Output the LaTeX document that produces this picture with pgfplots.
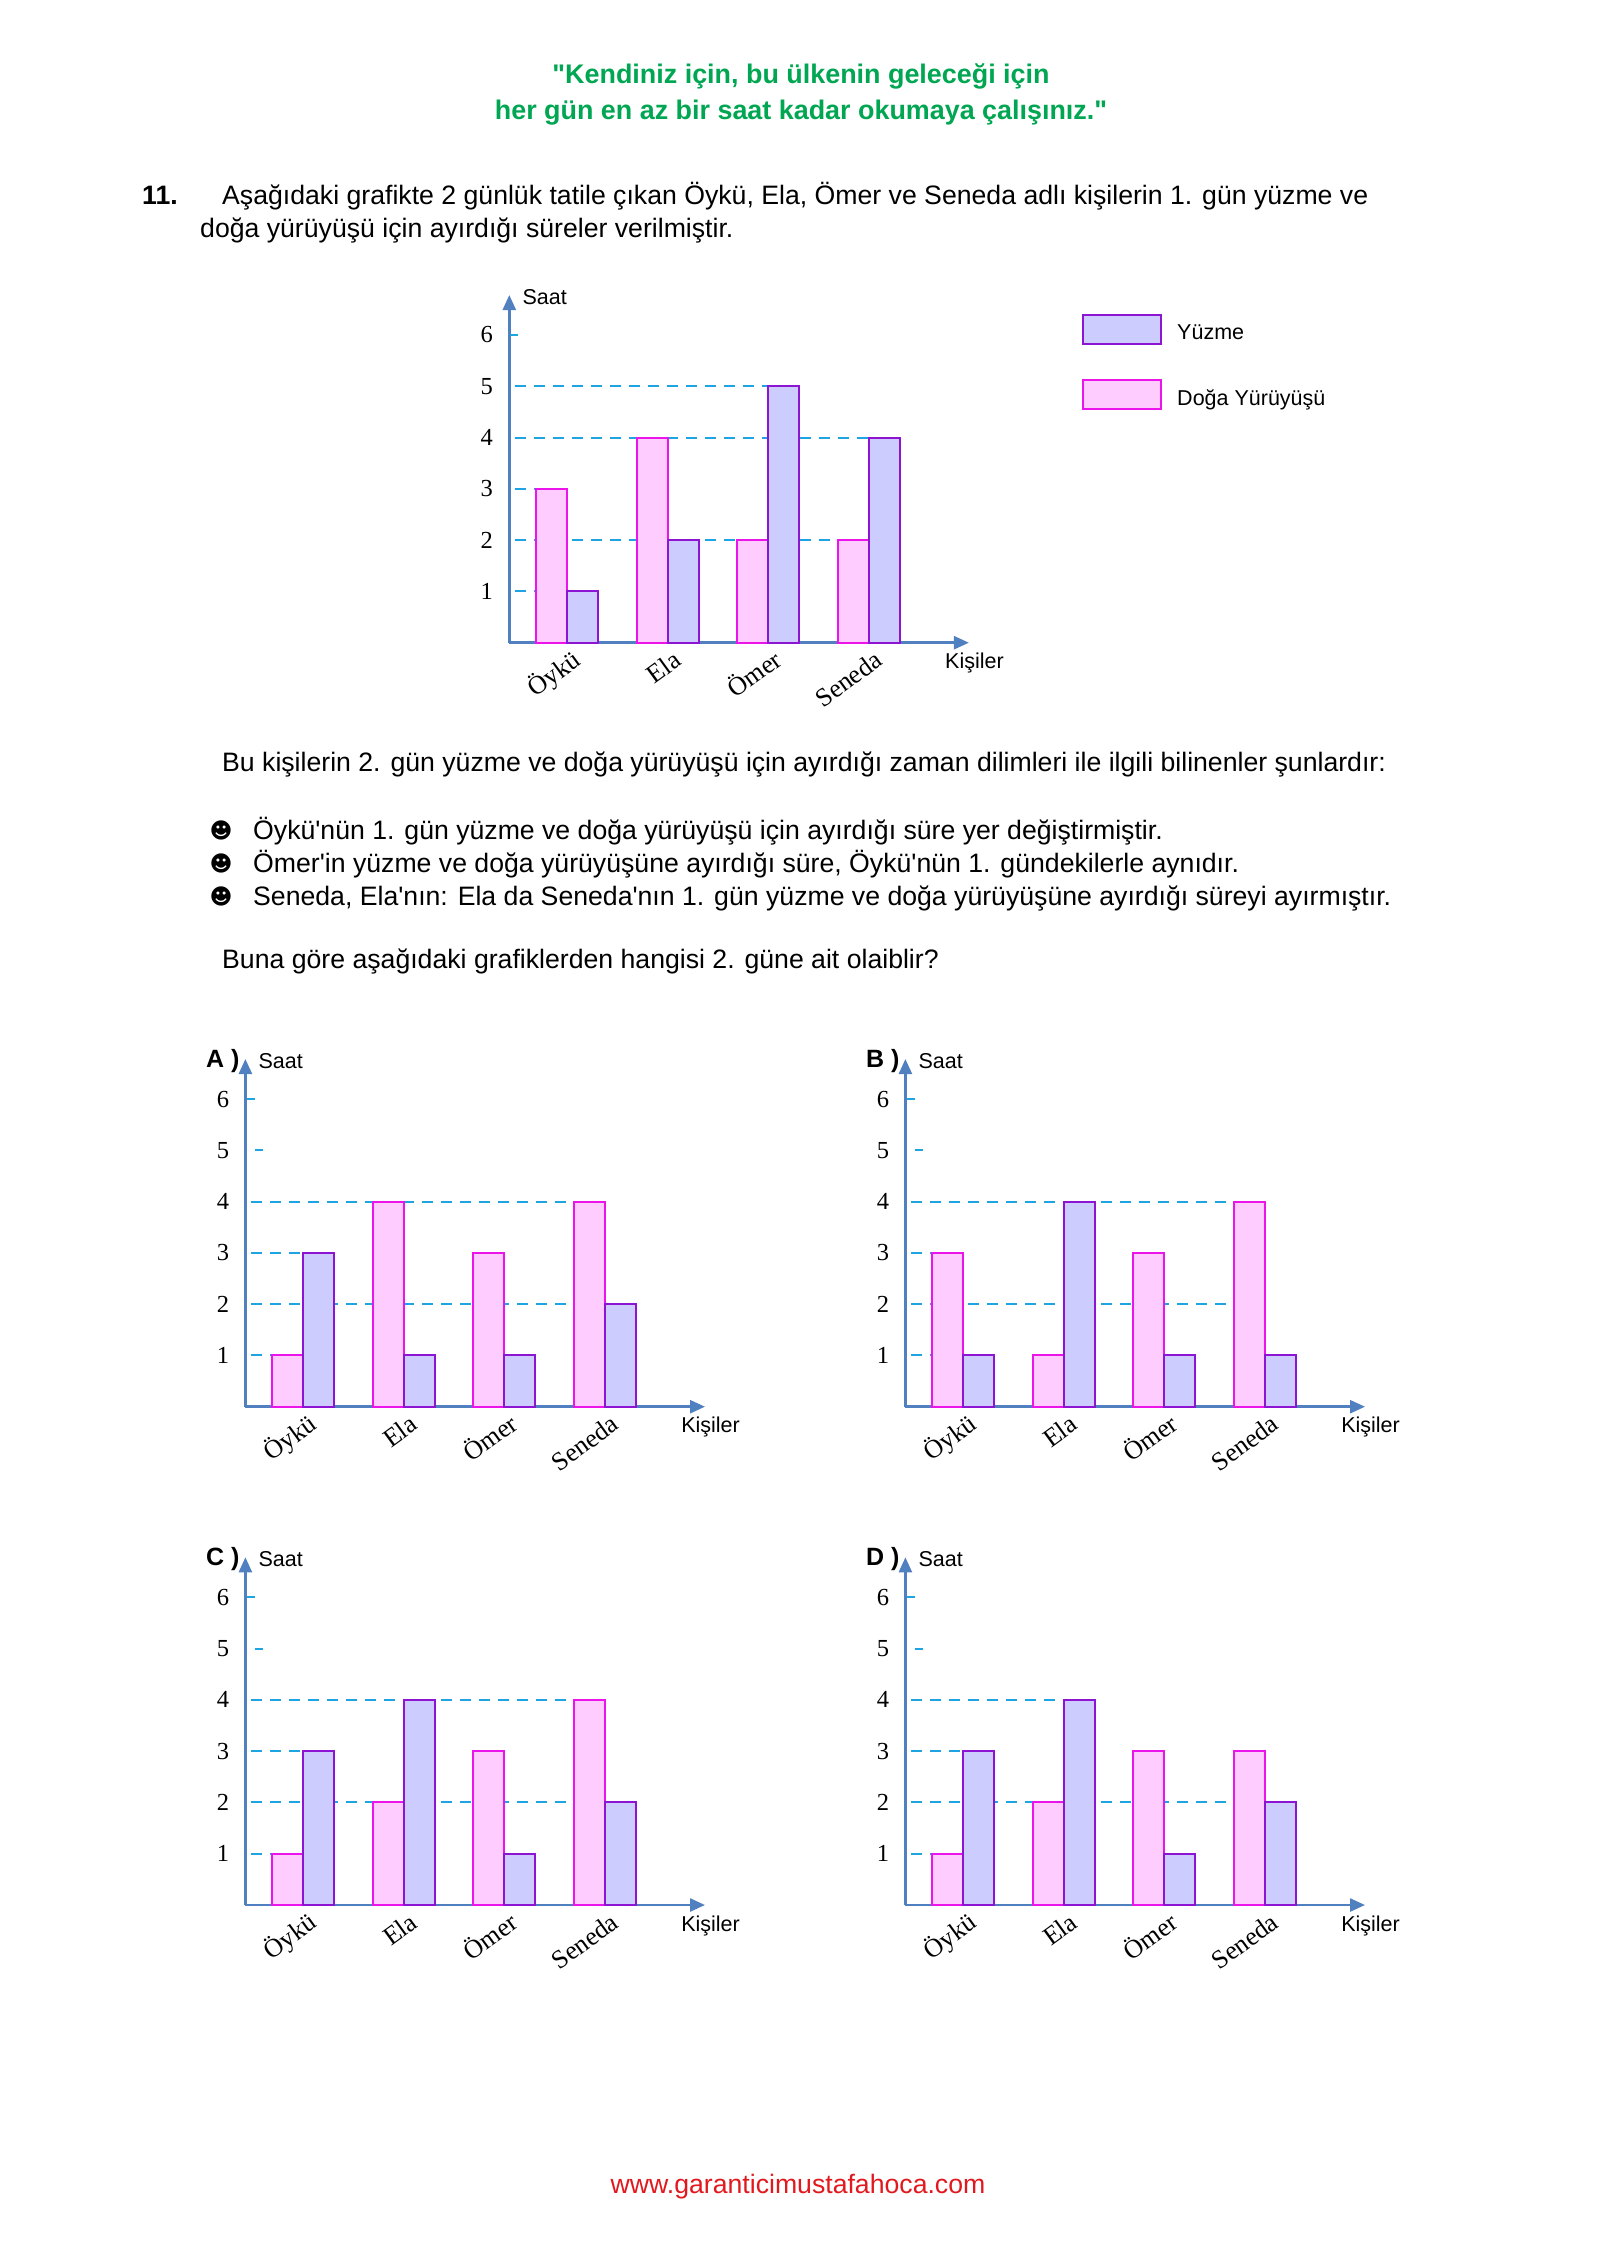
\documentclass[border=0pt]{standalone}
\usepackage{fontspec}
\setmainfont{Liberation Sans}[Ligatures=TeXOff]
\newfontfamily\tnr{Liberation Serif}
\newfontfamily\djv{DejaVu Sans}
\usepackage{pgfplots}
\pgfplotsset{compat=1.18}
\usetikzlibrary{arrows.meta}

\definecolor{axisblue}{RGB}{80,128,192}
\definecolor{dashcyan}{RGB}{30,165,225}
\definecolor{pinkfill}{RGB}{255,204,255}
\definecolor{pinkedge}{RGB}{235,20,235}
\definecolor{bluefill}{RGB}{204,204,255}
\definecolor{blueedge}{RGB}{140,20,210}
\definecolor{titlegreen}{RGB}{0,166,81}
\definecolor{footred}{RGB}{225,25,30}

\newcommand\bodyfont{\fontsize{26.65}{33}\selectfont}
\newcommand\titlefont{\fontsize{26.9}{33}\selectfont}
\newcommand\smallfont{\fontsize{21.5}{25}\selectfont}

\pgfplotsset{
  saatchart/.style={
    scale only axis, width=459.6pt, height=347.7pt,
    anchor=south west,
    xmin=-0.575, xmax=3.994, ymin=0, ymax=6.78,
    axis lines*=left,
    axis line style={draw=axisblue, line width=2.5pt, -{Triangle[length=15pt,width=13pt]}},
    xtick={0,1,2,3}, xticklabels={Öykü,Ela,Ömer,Seneda},
    ytick={1,2,3,4,5,6}, yticklabels={1,2,3,4,5,6},
    major tick length=0pt, tick style={draw=none},
    xticklabel style={font=\tnr\fontsize{26}{30}\selectfont, rotate=36, anchor=north east,
      inner sep=0pt, text height=17pt, text depth=0pt, xshift=0pt, yshift=-9pt},
    yticklabel style={font=\tnr\fontsize{24.5}{28}\selectfont, anchor=center, inner sep=0pt, xshift=-22.5pt},
    clip=false,
  },
  boxlegend/.style={legend image code/.code={\draw[##1, line width=2pt, solid] (0pt,-11.2pt) rectangle (78.3pt,17.4pt);}},
  pinkbar/.style={ybar, bar width=31pt, bar shift=-15.5pt, fill=pinkfill, draw=pinkedge, line width=2pt, boxlegend},
  bluebar/.style={ybar, bar width=31pt, bar shift=15.5pt, fill=bluefill, draw=blueedge, line width=2pt, boxlegend},
  dashln/.style={dashcyan, line width=2pt, dash pattern=on 11pt off 8pt, forget plot},
  tickln/.style={dashcyan, line width=2pt, solid, forget plot},
}

\newcommand\chartlabels[1]{%
  \node[anchor=west, inner sep=0pt, font=\smallfont, xshift=13pt, yshift=-2pt] at (rel axis cs:0,1) {Saat};
  \node[anchor=west, inner sep=0pt, font=\smallfont, yshift=-20.6pt] at (rel axis cs:0.948,0) {Kişiler};
  \node[anchor=west, inner sep=0pt, font=\bfseries\fontsize{25}{30}\selectfont, xshift=-39.4pt, yshift=-1.7pt] at (rel axis cs:0,1) {#1};
}

\begin{document}
\begin{tikzpicture}
\path[use as bounding box] (0pt,0pt) rectangle (1600pt,-2262pt);

% header
\node[anchor=base, inner sep=0pt, font=\bfseries\titlefont, text=titlegreen] at (801pt,-83pt) {"Kendiniz için, bu ülkenin geleceği için};
\node[anchor=base, inner sep=0pt, font=\bfseries\titlefont, text=titlegreen] at (801pt,-119pt) {her gün en az bir saat kadar okumaya çalışınız."};

\node[anchor=base west, inner sep=0pt, font=\bfseries\bodyfont] at (142pt,-204pt) {11.};
\node[anchor=base west, inner sep=0pt, font=\bodyfont] at (222pt,-204pt) {Aşağıdaki grafikte 2 günlük tatile çıkan Öykü, Ela, Ömer ve Seneda adlı kişilerin 1. gün yüzme ve};
\node[anchor=base west, inner sep=0pt, font=\bodyfont] at (200pt,-237pt) {doğa yürüyüşü için ayırdığı süreler verilmiştir.};

% day 1 chart
\begin{axis}[saatchart, at={(509.3pt,-642.7pt)},
  legend style={at={(1.2455,0.9454)}, anchor=north west, draw=none, fill=none, inner sep=0pt,
    row sep=34.7pt, font=\smallfont, nodes={inner sep=0pt},
    /tikz/every odd column/.append style={column sep=15pt}},
  legend cell align=left, reverse legend]
\addplot[tickln] coordinates {(-0.57,6) (-0.485,6)};
\addplot[dashln] coordinates {(-0.52,5) (2,5)};
\addplot[dashln] coordinates {(-0.52,4) (3,4)};
\addplot[dashln] coordinates {(-0.52,3) (-0.31,3)};
\addplot[dashln] coordinates {(-0.52,2) (2.69,2)};
\addplot[dashln] coordinates {(-0.52,1) (-0.31,1)};
\addplot[pinkbar] coordinates {(0,3) (1,4) (2,2) (3,2)};
\addlegendentry{Doğa Yürüyüşü}
\addplot[bluebar] coordinates {(0,1) (1,2) (2,5) (3,4)};
\addlegendentry{Yüzme}
\node[anchor=west, inner sep=0pt, font=\smallfont, xshift=13pt, yshift=-2pt] at (rel axis cs:0,1) {Saat};
\node[anchor=west, inner sep=0pt, font=\smallfont, yshift=-20.6pt] at (rel axis cs:0.948,0) {Kişiler};
\end{axis}

% middle text
\node[anchor=base west, inner sep=0pt, font=\bodyfont] at (222pt,-771pt) {Bu kişilerin 2. gün yüzme ve doğa yürüyüşü için ayırdığı zaman dilimleri ile ilgili bilinenler şunlardır:};
\node[inner sep=0pt, font=\djv\fontsize{22}{24}\selectfont] at (221pt,-830pt) {☻};
\node[inner sep=0pt, font=\djv\fontsize{22}{24}\selectfont] at (221pt,-863pt) {☻};
\node[inner sep=0pt, font=\djv\fontsize{22}{24}\selectfont] at (221pt,-896pt) {☻};
\node[anchor=base west, inner sep=0pt, font=\bodyfont] at (253pt,-839pt) {Öykü'nün 1. gün yüzme ve doğa yürüyüşü için ayırdığı süre yer değiştirmiştir.};
\node[anchor=base west, inner sep=0pt, font=\bodyfont] at (253pt,-872pt) {Ömer'in yüzme ve doğa yürüyüşüne ayırdığı süre, Öykü'nün 1. gündekilerle aynıdır.};
\node[anchor=base west, inner sep=0pt, font=\bodyfont] at (253pt,-905pt) {Seneda, Ela'nın: Ela da Seneda'nın 1. gün yüzme ve doğa yürüyüşüne ayırdığı süreyi ayırmıştır.};
\node[anchor=base west, inner sep=0pt, font=\bodyfont] at (222pt,-968pt) {Buna göre aşağıdaki grafiklerden hangisi 2. güne ait olaiblir?};

% A
\begin{axis}[saatchart, at={(245.4pt,-1406.7pt)}]
\addplot[tickln] coordinates {(-0.558,6) (-0.48,6)};
\addplot[tickln] coordinates {(-0.48,5) (-0.405,5)};
\addplot[dashln] coordinates {(-0.52,4) (2.69,4)};
\addplot[dashln] coordinates {(-0.52,3) (0,3)};
\addplot[dashln] coordinates {(-0.52,2) (2.69,2)};
\addplot[dashln] coordinates {(-0.52,1) (-0.31,1)};
\addplot[pinkbar] coordinates {(0,1) (1,4) (2,3) (3,4)};
\addplot[bluebar] coordinates {(0,3) (1,1) (2,1) (3,2)};
\chartlabels{A )}
\end{axis}

% B
\begin{axis}[saatchart, at={(905.4pt,-1406.7pt)}]
\addplot[tickln] coordinates {(-0.558,6) (-0.48,6)};
\addplot[tickln] coordinates {(-0.48,5) (-0.405,5)};
\addplot[dashln] coordinates {(-0.52,4) (2.69,4)};
\addplot[dashln] coordinates {(-0.52,3) (-0.31,3)};
\addplot[dashln] coordinates {(-0.52,2) (2.69,2)};
\addplot[dashln] coordinates {(-0.52,1) (-0.31,1)};
\addplot[pinkbar] coordinates {(0,3) (1,1) (2,3) (3,4)};
\addplot[bluebar] coordinates {(0,1) (1,4) (2,1) (3,1)};
\chartlabels{B )}
\end{axis}

% C
\begin{axis}[saatchart, at={(245.4pt,-1905pt)}]
\addplot[tickln] coordinates {(-0.558,6) (-0.48,6)};
\addplot[tickln] coordinates {(-0.48,5) (-0.405,5)};
\addplot[dashln] coordinates {(-0.52,4) (2.69,4)};
\addplot[dashln] coordinates {(-0.52,3) (0,3)};
\addplot[dashln] coordinates {(-0.52,2) (2.69,2)};
\addplot[dashln] coordinates {(-0.52,1) (-0.31,1)};
\addplot[pinkbar] coordinates {(0,1) (1,2) (2,3) (3,4)};
\addplot[bluebar] coordinates {(0,3) (1,4) (2,1) (3,2)};
\chartlabels{C )}
\end{axis}

% D
\begin{axis}[saatchart, at={(905.4pt,-1905pt)}]
\addplot[tickln] coordinates {(-0.558,6) (-0.48,6)};
\addplot[tickln] coordinates {(-0.48,5) (-0.405,5)};
\addplot[dashln] coordinates {(-0.52,4) (1,4)};
\addplot[dashln] coordinates {(-0.52,3) (0,3)};
\addplot[dashln] coordinates {(-0.52,2) (2.69,2)};
\addplot[dashln] coordinates {(-0.52,1) (-0.31,1)};
\addplot[pinkbar] coordinates {(0,1) (1,2) (2,3) (3,3)};
\addplot[bluebar] coordinates {(0,3) (1,4) (2,1) (3,2)};
\chartlabels{D )}
\end{axis}

% footer
\node[anchor=base, inner sep=0pt, font=\bodyfont, text=footred] at (798pt,-2193pt) {www.garanticimustafahoca.com};
\end{tikzpicture}
\end{document}
